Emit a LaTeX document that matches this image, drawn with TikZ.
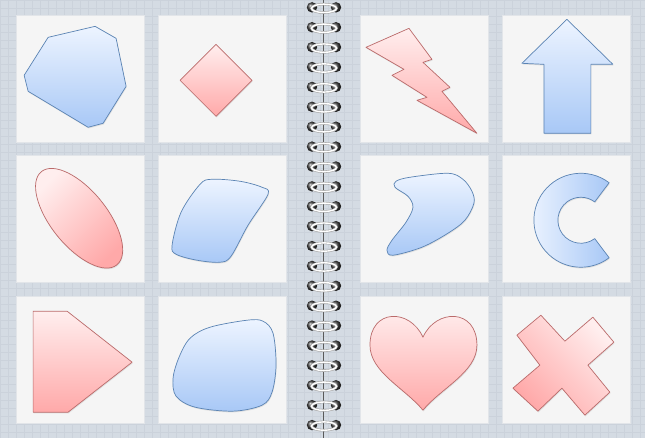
\documentclass[tikz,border=0pt]{standalone}
\usepackage{tikz}
\usetikzlibrary{shadows}
\definecolor{papier}{HTML}{D4DBE3}
\definecolor{quadrillage}{HTML}{CBD2DB}
\definecolor{carton}{HTML}{F5F5F5}
\definecolor{bordCarte}{HTML}{E2E5E9}
\definecolor{bleuClair}{HTML}{EDF4FF}
\definecolor{bleuFonce}{HTML}{A8C8F6}
\definecolor{bleuBord}{HTML}{5A83B3}
\definecolor{rougeClair}{HTML}{FFEEEE}
\definecolor{rougeFonce}{HTML}{FFA9A9}
\definecolor{rougeBord}{HTML}{BA6A6A}

\begin{document}
\begin{tikzpicture}[x=1pt,y=-1pt]
\tikzstyle{carte}=[fill=carton,draw=bordCarte,line width=0.5pt,minimum width=128pt,minimum height=127pt,inner sep=0pt]
\tikzstyle{ombre}=[drop shadow={opacity=0.18,shadow xshift=0.6pt,shadow yshift=-1.2pt}]
\tikzstyle{bleu}=[ombre,draw=bleuBord,line width=0.7pt,line join=round,top color=bleuClair,bottom color=bleuFonce]
\tikzstyle{rouge}=[ombre,draw=rougeBord,line width=0.7pt,line join=round,top color=rougeClair,bottom color=rougeFonce]
\tikzstyle{trou}=[ball color=gray!50!black]
\tikzstyle{fil}=[draw=gray!70,double=white,double distance=1.4pt,line width=0.6pt]
\def\ColonneA{80}
\def\ColonneB{222}
\def\ColonneC{424}
\def\ColonneD{566}
\def\LigneA{78.5}
\def\LigneB{218.5}
\def\LigneC{359.5}
\def\PasAnneau{19.9}
% fond quadrille
\fill[papier] (0,0) rectangle (645,438);
\foreach \gx in {0,8,...,640} \draw[quadrillage,line width=0.3pt] (\gx,0)--(\gx,438);
\foreach \gy in {0,8,...,432} \draw[quadrillage,line width=0.3pt] (0,\gy)--(645,\gy);
% cartes
\node[carte] (A1) at ({\ColonneA},{\LigneA}) {};
\node[carte] (B1) at ({\ColonneB},{\LigneA}) {};
\node[carte] (C1) at ({\ColonneC},{\LigneA}) {};
\node[carte] (D1) at ({\ColonneD},{\LigneA}) {};
\node[carte] (A2) at ({\ColonneA},{\LigneB}) {};
\node[carte] (B2) at ({\ColonneB},{\LigneB}) {};
\node[carte] (C2) at ({\ColonneC},{\LigneB}) {};
\node[carte] (D2) at ({\ColonneD},{\LigneB}) {};
\node[carte] (A3) at ({\ColonneA},{\LigneC}) {};
\node[carte] (B3) at ({\ColonneB},{\LigneC}) {};
\node[carte] (C3) at ({\ColonneC},{\LigneC}) {};
\node[carte] (D3) at ({\ColonneD},{\LigneC}) {};
% reliure
\draw[gray!70!black,line width=0.7pt] (323,0)--(323,438);
\foreach \k in {0,...,21}{
  \shade[trou] (312,{7+\k*\PasAnneau}) circle (5.2);
  \shade[trou] (336,{7+\k*\PasAnneau}) circle (5.2);
  \draw[fil] (324,{8+\k*\PasAnneau}) ellipse (12.5 and 4.2);
}
% formes
\draw[bleu] (48,37)--(95,26)--(116,38)--(126,86)--(103,123)--(88,127)--(28,91)--(24,75)--cycle;
\draw[rouge] (216,44)--(252,80)--(216,116)--(180,80)--cycle;
\draw[rouge,shading angle=45,rotate around={-51:(79,218)}] (79,218) ellipse (60 and 28);
\draw[bleu] plot[smooth cycle,tension=0.55] coordinates {(200,184) (212,179) (240,181) (262,187) (268,194) (248,225) (231,256) (220,262) (197,260) (176,254) (172,245) (181,212)};
\draw[rouge] (366,47)--(409,28)--(432,59)--(423,62)--(450,87)--(442,91)--(477,133)--(417,100)--(427,97)--(392,75)--(404,69)--cycle;
\draw[bleu] (567,19)--(613,64)--(591,64)--(591,133)--(544,133)--(544,64)--(522,63)--cycle;
\draw[bleu] plot[smooth cycle,tension=0.55] coordinates {(396,181) (410,177) (448,173) (463,179) (472,191) (474,203) (465,220) (448,233) (422,247) (393,255) (387,250) (392,240) (406,222) (413,207) (408,196) (395,187)};
\draw[bleu,left color=bleuClair,right color=bleuFonce] (581,220) ++(307:47) arc[start angle=307,end angle=53,radius=47] -- ++(233:24) arc[start angle=53,end angle=307,radius=23] -- cycle;
\draw[rouge] (33,311)--(67,311)--(132,362)--(68,412)--(33,412)--cycle;
\draw[bleu] plot[smooth cycle,tension=0.55] coordinates {(179,357) (190,338) (210,327) (247,320) (263,321) (273,333) (276,365) (272,392) (262,405) (233,411) (195,407) (176,396) (173,378)};
\draw[rouge] (423,337) .. controls (410,308) and (370,308) .. (370,345) .. controls (370,372) and (405,388) .. (423,410) .. controls (441,388) and (477,372) .. (477,345) .. controls (477,308) and (436,308) .. (423,337) -- cycle;
\draw[rouge,shading angle=-45] (517,335)--(541,315)--(565,341)--(593,317)--(614,342)--(588,365)--(610,392)--(585,415)--(562,388)--(538,411)--(513,388)--(540,365)--cycle;
\end{tikzpicture}
\end{document}
